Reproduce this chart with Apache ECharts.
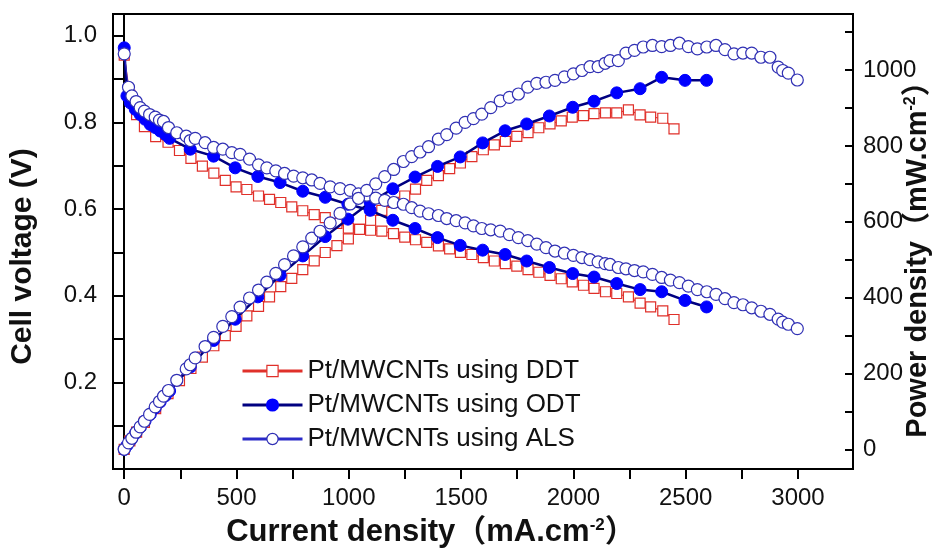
<!DOCTYPE html>
<html>
<head>
<meta charset="utf-8">
<title>Cell voltage and power density</title>
<script src="https://cdn.jsdelivr.net/npm/echarts@6.0.0/dist/echarts.min.js"></script>
<style>
  html, body { margin: 0; padding: 0; background: #fff; }
  #main { width: 943px; height: 548px; }
</style>
</head>
<body>
<div id="main"></div>
<script>
// current density (mA/cm2), cell voltage (V), power density (mW/cm2)
var ddtCurrent = [0, 25, 55, 90, 140, 195, 246, 297, 348, 399,
    450, 498, 546, 598, 647, 697, 746, 795, 846, 895,
    947, 998, 1048, 1097, 1147, 1199, 1249, 1297, 1347, 1399,
    1449, 1497, 1548, 1599, 1648, 1697, 1748, 1798, 1846, 1896,
    1946, 1995, 2045, 2092, 2143, 2193, 2245, 2297, 2344, 2398,
    2448];
var ddtVoltage = [0.955, 0.862, 0.818, 0.790, 0.767, 0.754, 0.735, 0.717, 0.699, 0.683,
    0.666, 0.651, 0.645, 0.630, 0.622, 0.615, 0.605, 0.596, 0.587, 0.580,
    0.567, 0.556, 0.553, 0.551, 0.549, 0.543, 0.535, 0.529, 0.523, 0.515,
    0.508, 0.500, 0.495, 0.488, 0.480, 0.474, 0.468, 0.460, 0.454, 0.447,
    0.439, 0.432, 0.424, 0.417, 0.409, 0.405, 0.397, 0.383, 0.374, 0.365,
    0.345];
var ddtPower = [0, 22, 45, 71, 107, 147, 181, 213, 243, 273,
    300, 324, 352, 377, 402, 429, 451, 474, 497, 519,
    537, 555, 580, 604, 630, 651, 668, 686, 709, 722,
    740, 755, 772, 790, 803, 812, 825, 835, 848, 858,
    866, 876, 880, 885, 887, 887, 895, 882, 876, 873,
    845];

var odtCurrent = [0, 12, 27, 49, 71, 93, 116, 138, 160, 183,
    202, 294, 398, 494, 595, 694, 795, 895, 996, 1095,
    1196, 1295, 1395, 1496, 1596, 1696, 1792, 1893, 1997, 2092,
    2193, 2297, 2393, 2497, 2593];
var odtVoltage = [0.972, 0.861, 0.845, 0.830, 0.818, 0.807, 0.795, 0.788, 0.780, 0.772,
    0.763, 0.738, 0.722, 0.695, 0.675, 0.661, 0.641, 0.627, 0.611, 0.597,
    0.574, 0.555, 0.534, 0.516, 0.505, 0.495, 0.480, 0.465, 0.451, 0.443,
    0.428, 0.414, 0.409, 0.389, 0.374];
var odtPower = [0, 10, 23, 41, 58, 75, 92, 109, 125, 141,
    154, 217, 287, 343, 402, 459, 510, 561, 607, 651,
    687, 718, 746, 771, 808, 840, 858, 879, 902, 918,
    940, 951, 981, 973, 973];

var alsCurrent = [0, 19, 34, 53, 71, 90, 113, 138, 157, 175,
    197, 234, 276, 294, 316, 360, 398, 439, 479, 516,
    558, 598, 635, 675, 714, 754, 795, 835, 872, 917,
    961, 1006, 1043, 1080, 1120, 1160, 1200, 1243, 1280, 1317,
    1355, 1399, 1436, 1478, 1518, 1555, 1592, 1632, 1674, 1715,
    1755, 1797, 1837, 1878, 1918, 1960, 2000, 2038, 2074, 2110,
    2141, 2163, 2200, 2234, 2272, 2311, 2352, 2393, 2432, 2472,
    2512, 2552, 2594, 2635, 2675, 2715, 2755, 2794, 2835, 2875,
    2912, 2932, 2957, 2997];
var alsVoltage = [0.958, 0.881, 0.861, 0.848, 0.834, 0.826, 0.818, 0.812, 0.805, 0.802,
    0.788, 0.776, 0.768, 0.758, 0.763, 0.753, 0.742, 0.738, 0.730, 0.726,
    0.715, 0.702, 0.695, 0.688, 0.682, 0.676, 0.672, 0.667, 0.659, 0.651,
    0.647, 0.643, 0.635, 0.632, 0.625, 0.620, 0.615, 0.611, 0.603, 0.595,
    0.589, 0.585, 0.578, 0.573, 0.568, 0.561, 0.555, 0.552, 0.549, 0.541,
    0.534, 0.527, 0.519, 0.511, 0.503, 0.498, 0.493, 0.488, 0.483, 0.478,
    0.474, 0.472, 0.465, 0.462, 0.458, 0.455, 0.449, 0.442, 0.436, 0.430,
    0.422, 0.414, 0.409, 0.403, 0.393, 0.384, 0.379, 0.372, 0.364, 0.357,
    0.346, 0.339, 0.334, 0.324];
var alsPower = [0, 17, 29, 45, 59, 74, 92, 112, 126, 140,
    155, 182, 212, 223, 241, 271, 295, 324, 350, 375,
    399, 420, 441, 464, 487, 510, 534, 557, 575, 597,
    622, 647, 662, 683, 700, 719, 738, 759, 772, 784,
    798, 818, 830, 847, 862, 872, 884, 901, 919, 928,
    937, 955, 965, 968, 973, 982, 990, 999, 1009, 1009,
    1018, 1025, 1025, 1045, 1052, 1061, 1065, 1062, 1065, 1071,
    1062, 1056, 1061, 1065, 1054, 1043, 1045, 1045, 1034, 1034,
    1008, 999, 992, 974];

// axis ticks and labels
var xLabels = [0, 500, 1000, 1500, 2000, 2500, 3000];
var xTicks = [0, 250, 500, 750, 1000, 1250, 1500, 1750, 2000, 2250, 2500, 2750, 3000];
var vLabels = [0.2, 0.4, 0.6, 0.8, 1.0];
var vTicks = [0.1, 0.2, 0.3, 0.4, 0.5, 0.6, 0.7, 0.8, 0.9, 1.0];
var pLabels = [0, 200, 400, 600, 800, 1000];
var pTicks = [0, 100, 200, 300, 400, 500, 600, 700, 800, 900, 1000, 1100];

var seriesNames = ['Pt/MWCNTs using DDT', 'Pt/MWCNTs using ODT', 'Pt/MWCNTs using ALS'];

var FONT = '"Liberation Sans", Arial, "Noto Sans CJK SC", sans-serif';
var RED = '#e0302a';

function pairs(xs, ys) {
    var out = [];
    for (var i = 0; i < xs.length; i++) {
        out.push([xs[i], ys[i]]);
    }
    return out;
}

var ddtStyle = {
    symbol: 'rect', symbolSize: 10,
    itemStyle: {color: '#fff', borderColor: RED, borderWidth: 1.2},
    lineStyle: {color: RED, width: 1.2}
};
var odtStyle = {
    symbol: 'circle', symbolSize: 12,
    itemStyle: {color: '#0000ff', borderColor: '#0000ff', borderWidth: 1},
    lineStyle: {color: '#000080', width: 2.5}
};
var alsStyle = {
    symbol: 'circle', symbolSize: 12,
    itemStyle: {color: '#fff', borderColor: '#3030b4', borderWidth: 1.2},
    lineStyle: {color: '#2a2ac8', width: 1}
};

function makeSeries(name, style, xs, ys, axis, z) {
    return {
        name: name,
        type: 'line',
        xAxisIndex: 0,
        yAxisIndex: axis,
        data: pairs(xs, ys),
        symbol: style.symbol,
        symbolSize: style.symbolSize,
        showSymbol: true,
        itemStyle: style.itemStyle,
        lineStyle: style.lineStyle,
        emphasis: {disabled: true},
        z: z
    };
}

function plain(v) { return String(v); }

function titleRich(size) {
    return {
        t: {fontFamily: FONT, fontSize: size, fontWeight: 'bold', color: '#111'},
        s: {fontFamily: FONT, fontSize: Math.round(size * 0.55), fontWeight: 'bold', color: '#111', verticalAlign: 'top'}
    };
}

var myChart = echarts.init(document.getElementById('main'));

var option = {
    animation: false,
    backgroundColor: '#fff',
    grid: {
        left: 113, right: 90, top: 14, bottom: 79,
        containLabel: false,
        outerBoundsMode: 'none',
        show: true, borderColor: '#000', borderWidth: 2, backgroundColor: 'transparent'
    },
    legend: {
        orient: 'vertical',
        left: 241,
        top: 358,
        padding: 0,
        itemWidth: 60,
        itemHeight: 14,
        itemGap: 8,
        textStyle: {fontFamily: FONT, fontSize: 26, color: '#111', lineHeight: 25},
        data: [
            {name: seriesNames[0], itemStyle: {color: '#fff', borderColor: RED, borderWidth: 1.2}, lineStyle: {color: RED, width: 3}},
            {name: seriesNames[1], itemStyle: {color: '#0000ff'}, lineStyle: {color: '#000080', width: 3}},
            {name: seriesNames[2], itemStyle: {color: '#fff', borderColor: '#3030b4', borderWidth: 1.2}, lineStyle: {color: '#2a2ac8', width: 3}}
        ]
    },
    xAxis: {
        type: 'value',
        min: -50,
        max: 3245,
        name: '{t|Current density（mA.cm}{s|-2}{t|）}',
        nameLocation: 'middle',
        nameGap: 48,
        nameMoveOverlap: false,
        nameTextStyle: {rich: titleRich(31), padding: [0, 104, 0, 0]},
        axisLine: {show: true, lineStyle: {color: '#000', width: 2}},
        axisTick: {show: true, length: 10, lineStyle: {color: '#000', width: 2}, customValues: xTicks},
        axisLabel: {show: true, margin: 17, customValues: xLabels, formatter: plain,
            fontFamily: FONT, fontSize: 24, color: '#111'},
        splitLine: {show: false}
    },
    yAxis: [
        {
            type: 'value',
            position: 'left',
            min: 0,
            max: 1.05,
            name: '{t|Cell voltage (V)}',
            nameLocation: 'middle',
            nameRotate: 90,
            nameGap: 75,
            nameMoveOverlap: false,
            nameTextStyle: {rich: titleRich(30), padding: [0, 30, 0, 0]},
            axisLine: {show: true, lineStyle: {color: '#000', width: 2}},
            axisTick: {show: true, length: 11, lineStyle: {color: '#000', width: 2}, customValues: vTicks},
            axisLabel: {
                show: true, margin: 16, customValues: vLabels,
                fontFamily: FONT, fontSize: 24, color: '#111',
                formatter: function (v) { return v.toFixed(1); }
            },
            splitLine: {show: false}
        },
        {
            type: 'value',
            position: 'right',
            min: -52,
            max: 1148,
            name: '{t|Power density（mW.cm}{s|-2}{t|）}',
            nameLocation: 'middle',
            nameRotate: 90,
            nameGap: 50,
            nameMoveOverlap: false,
            nameTextStyle: {rich: titleRich(29), padding: [0, 22, 0, 0]},
            axisLine: {show: true, lineStyle: {color: '#000', width: 2}},
            axisTick: {show: true, inside: true, length: 8, lineStyle: {color: '#000', width: 2}, customValues: pTicks},
            axisLabel: {show: true, margin: 10, customValues: pLabels, formatter: plain,
                fontFamily: FONT, fontSize: 24, color: '#111'},
            splitLine: {show: false}
        }
    ],
    series: [
        makeSeries(seriesNames[0], ddtStyle, ddtCurrent, ddtVoltage, 0, 2),
        makeSeries(seriesNames[0], ddtStyle, ddtCurrent, ddtPower, 1, 2),
        makeSeries(seriesNames[1], odtStyle, odtCurrent, odtVoltage, 0, 3),
        makeSeries(seriesNames[1], odtStyle, odtCurrent, odtPower, 1, 3),
        makeSeries(seriesNames[2], alsStyle, alsCurrent, alsVoltage, 0, 4),
        makeSeries(seriesNames[2], alsStyle, alsCurrent, alsPower, 1, 4)
    ]
};

myChart.setOption(option);
</script>
</body>
</html>
